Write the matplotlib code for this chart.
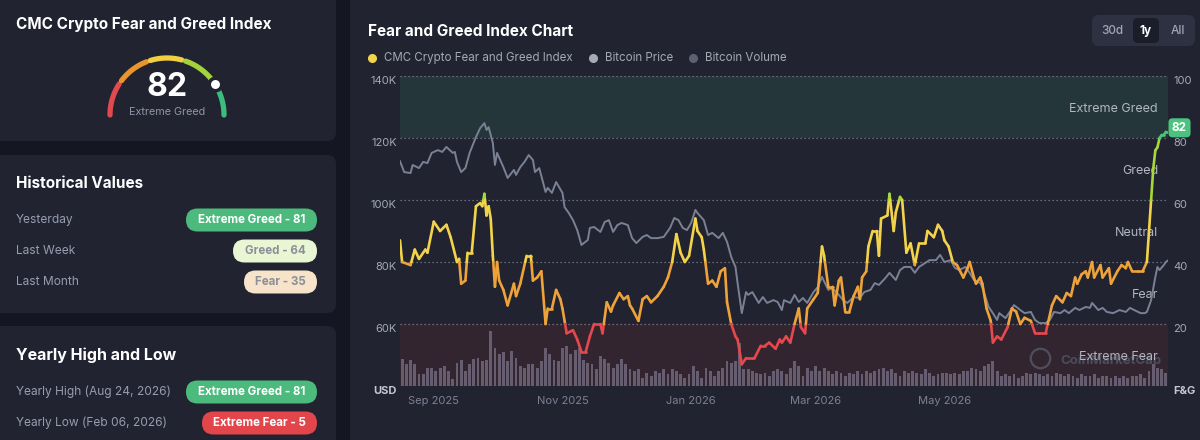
import numpy as np
import matplotlib
matplotlib.use("Agg")
import matplotlib.pyplot as plt
import matplotlib.dates as mdates
import matplotlib.transforms as mtransforms
from matplotlib.patches import FancyBboxPatch
from matplotlib.collections import LineCollection

plt.rcParams['font.family'] = ['Inter', 'DejaVu Sans']

# ---------------- data ----------------
start_date = '2025-08-16'
fg_now = 82
fg_now_label = 'Extreme Greed'

hist_labels = ['Yesterday', 'Last Week', 'Last Month']
hist_values = ['Extreme Greed - 81', 'Greed - 64', 'Fear - 35']
yearly_labels = ['Yearly High (Aug 24, 2026)', 'Yearly Low (Feb 06, 2026)']
yearly_values = ['Extreme Greed - 81', 'Extreme Fear - 5']

legend_labels = ['CMC Crypto Fear and Greed Index', 'Bitcoin Price', 'Bitcoin Volume']
range_buttons = ['30d', '1y', 'All']
zone_labels = ['Extreme Fear', 'Fear', 'Neutral', 'Greed', 'Extreme Greed']
zone_centers = [10, 30, 50, 70, 90]

x_tick_dates = ['2025-09-01', '2025-11-01', '2026-01-01', '2026-03-01', '2026-05-01']
x_tick_labels = ['Sep 2025', 'Nov 2025', 'Jan 2026', 'Mar 2026', 'May 2026']
price_ticks = [40, 60, 80, 100, 120, 140]
price_tick_labels = ['USD', '60K', '80K', '100K', '120K', '140K']
fg_ticks = [0, 20, 40, 60, 80, 100]
fg_tick_labels = ['F&G', '20', '40', '60', '80', '100']

# days since start_date
fg_day = [0, 1, 5, 7, 9, 12, 13, 16, 19, 22, 24, 27, 28, 29, 31, 32, 34, 36, 38, 39,
          40, 41, 42, 43, 44, 45, 46, 47, 49, 51, 54, 55, 57, 60, 62, 63, 65, 67, 69, 70,
          72, 74, 76, 77, 79, 82, 84, 86, 88, 90, 92, 95, 96, 98, 100, 101, 104, 106, 108, 109,
          110, 113, 115, 117, 119, 122, 125, 127, 129, 131, 133, 135, 137, 140, 141, 143, 144, 146, 148, 150,
          152, 154, 155, 157, 159, 160, 162, 164, 167, 168, 171, 173, 175, 178, 180, 181, 183, 185, 187, 189,
          190, 192, 193, 196, 198, 200, 201, 203, 205, 206, 208, 209, 211, 213, 215, 217, 218, 219, 221, 222,
          224, 226, 227, 228, 231, 232, 234, 235, 237, 238, 240, 242, 244, 246, 249, 250, 253, 255, 257, 258,
          260, 262, 264, 267, 269, 270, 272, 273, 275, 276, 278, 280, 281, 283, 285, 288, 290, 292, 294, 296,
          299, 301, 303, 306, 307, 309, 311, 314, 316, 318, 320, 321, 323, 325, 326, 328, 329, 332, 333, 336,
          337, 340, 342, 344, 345, 347, 350, 352, 354, 355, 356, 357, 358, 359, 360, 361, 362, 363, 364]
fg_value = [47, 40, 39, 44, 41, 44, 43, 53, 50, 52, 48, 40, 41, 33, 34, 43, 43, 58, 59, 58,
            62, 55, 58, 54, 42, 32, 40, 34, 31, 26, 33, 29, 33, 42, 42, 34, 35, 37, 20, 25,
            25, 31, 28, 25, 17, 18, 15, 11, 11, 16, 20, 20, 17, 27, 24, 26, 30, 28, 29, 26,
            25, 21, 28, 29, 27, 29, 32, 35, 40, 49, 43, 40, 42, 54, 50, 48, 44, 33, 34, 32,
            37, 38, 27, 20, 16, 15, 7, 9, 9, 9, 13, 13, 14, 12, 15, 14, 16, 14, 20, 25,
            19, 17, 25, 28, 30, 45, 42, 32, 32, 26, 34, 35, 24, 24, 29, 32, 28, 35, 37, 45,
            50, 50, 42, 54, 55, 62, 50, 56, 61, 60, 43, 46, 39, 46, 46, 50, 48, 52, 50, 47,
            45, 40, 39, 35, 38, 40, 35, 33, 35, 33, 25, 21, 14, 16, 15, 19, 25, 24, 20, 22,
            21, 17, 17, 17, 20, 26, 29, 27, 30, 29, 35, 33, 36, 37, 35, 40, 35, 39, 35, 38,
            33, 37, 39, 38, 40, 37, 37, 37, 40, 50, 60, 70, 76, 77, 80, 81, 81, 82, 82]

price_day = [0, 2, 5, 6, 9, 11, 13, 15, 18, 20, 22, 25, 26, 27, 29, 31, 33, 36, 38, 40,
             41, 42, 44, 45, 46, 49, 51, 54, 55, 57, 59, 61, 63, 64, 66, 69, 70, 72, 74, 77,
             78, 80, 82, 84, 86, 89, 90, 92, 95, 97, 99, 101, 103, 105, 108, 110, 112, 115, 117, 119,
             122, 125, 128, 130, 132, 134, 136, 138, 140, 141, 144, 146, 148, 151, 153, 155, 157, 159, 160, 162,
             164, 165, 167, 170, 172, 174, 177, 179, 181, 182, 185, 187, 189, 191, 193, 196, 198, 200, 203, 205,
             208, 210, 212, 215, 218, 220, 223, 225, 227, 230, 232, 235, 237, 239, 242, 244, 246, 249, 251, 254,
             256, 258, 261, 263, 265, 268, 270, 272, 275, 276, 279, 281, 283, 284, 287, 289, 291, 294, 296, 299,
             301, 303, 306, 308, 310, 313, 315, 317, 320, 322, 325, 327, 328, 331, 333, 335, 338, 341, 344, 346,
             348, 351, 353, 354, 356, 358, 359, 360, 362, 363, 364]
btc_price_k = [112.5, 109.0, 108.7, 111.3, 110.3, 112.3, 111.9, 115.2, 116.1, 115.5, 117.1, 115.2, 115.5, 112.3, 109.0, 110.3, 115.2, 120.3, 123.2, 124.8,
               122.6, 123.5, 118.4, 111.3, 115.2, 110.6, 107.1, 109.7, 108.1, 110.6, 112.3, 114.5, 112.9, 109.0, 110.3, 102.6, 103.9, 102.3, 105.8, 102.3,
               97.7, 95.8, 93.5, 90.3, 85.5, 87.1, 91.0, 91.3, 89.7, 92.9, 93.5, 89.7, 91.9, 92.6, 91.9, 87.7, 86.1, 88.1, 88.7, 87.7,
               87.7, 88.1, 91.0, 94.2, 93.5, 91.0, 90.3, 92.6, 96.8, 95.8, 93.5, 88.7, 89.4, 87.7, 89.4, 86.5, 81.6, 78.4, 73.2, 63.5,
               70.3, 69.4, 70.3, 66.8, 68.7, 66.8, 67.7, 67.1, 64.5, 67.7, 66.8, 69.4, 67.1, 68.4, 66.8, 70.3, 71.9, 75.2, 71.0, 71.6,
               69.4, 67.7, 66.8, 68.7, 68.4, 70.3, 71.0, 73.2, 72.6, 74.8, 76.5, 74.2, 77.4, 78.4, 78.4, 76.5, 78.4, 79.7, 80.6, 80.6,
               82.3, 80.0, 80.6, 78.1, 77.4, 78.4, 76.5, 74.2, 73.2, 71.9, 65.5, 63.5, 61.3, 63.5, 61.9, 63.9, 66.1, 64.5, 63.5, 63.9,
               61.3, 60.3, 60.3, 61.3, 63.9, 63.5, 64.5, 63.5, 65.2, 64.5, 65.5, 65.2, 66.8, 64.5, 65.2, 63.9, 63.5, 64.5, 63.9, 65.2,
               64.5, 63.5, 63.5, 63.9, 67.7, 75.2, 78.4, 77.4, 79.0, 80.0, 80.5]

# Bitcoin volume, billions USD, two-day buckets from start_date
btc_volume_bn = [54, 44, 52, 44, 24, 24, 36, 36, 30, 36,
                 40, 30, 14, 46, 52, 30, 44, 54, 56, 50,
                 52, 110, 76, 64, 68, 50, 70, 56, 40, 36,
                 44, 44, 36, 50, 76, 64, 52, 50, 76, 80,
                 64, 72, 76, 52, 46, 44, 34, 60, 54, 46,
                 36, 44, 54, 44, 34, 30, 34, 16, 26, 20,
                 30, 26, 34, 24, 34, 30, 24, 16, 24, 40,
                 30, 16, 36, 30, 20, 30, 36, 50, 46, 50,
                 86, 34, 34, 30, 26, 24, 26, 20, 30, 34,
                 30, 24,
                 36, 50, 40, 20, 36, 30, 40, 30, 36, 30,
                 24, 30, 26, 20, 26, 24, 30, 24, 30, 26,
                 30, 34, 36, 30, 34, 26, 20, 30, 26, 30,
                 26, 24, 34, 26, 20, 24, 26, 26, 24, 26,
                 24, 30, 30, 36, 34, 30, 40, 44, 50, 30,
                 20, 24, 20, 24, 16, 20, 26, 24, 26, 24,
                 20, 24, 20, 26, 24, 20, 24, 20, 16, 24,
                 20, 20, 24, 16, 20, 20, 16, 20, 16, 20,
                 16, 20, 20, 24, 16, 30, 44, 36, 34, 26,
                 20]

# ---------------- style ----------------
PAGE = '#141722'
PANEL = '#212330'
WHITE = '#ffffff'
MUTED = '#979db0'
AXIS_TXT = '#a4a9b8'
XTXT = '#7b8195'
GRID = '#7d8292'
ZONE_COLORS = ['#e5484d', '#eea23a', '#f3d34a', '#a6d83a', '#4cc27f']
GAUGE_COLORS = ['#e04a4f', '#e8952f', '#f0d040', '#a2d33a', '#3dbd7d']
PRICE_COLOR = '#7b8194'
VOL_COLOR = '#665e70'

fig = plt.figure(figsize=(12, 4.4), dpi=100)
fig.patch.set_facecolor(PAGE)

bg = fig.add_axes([0, 0, 1, 1])
bg.set_xlim(0, 1200)
bg.set_ylim(440, 0)
bg.axis('off')


def rbox(x, y, w, h, r, fc):
    bg.add_patch(FancyBboxPatch((x, y), w, h, boxstyle=f'round,pad=0,rounding_size={r}',
                                fc=fc, ec='none'))


# panels
rbox(-12, -12, 348, 153, 9, PANEL)
rbox(-12, 155, 348, 158, 9, PANEL)
rbox(-12, 326, 348, 130, 9, PANEL)
rbox(350, -12, 870, 470, 9, PANEL)

# ---- gauge panel ----
bg.text(16, 25, 'CMC Crypto Fear and Greed Index', fontsize=11, weight='bold', color=WHITE, va='center')
cx, cy, r = 167, 115, 57
gauge_segs = [(180, 147), (143, 111), (107, 75), (71, 39), (35, 0)]
for (a0, a1), c in zip(gauge_segs, GAUGE_COLORS):
    th = np.radians(np.linspace(a0, a1, 60))
    bg.plot(cx + r * np.cos(th), cy - r * np.sin(th), color=c, lw=3.8, solid_capstyle='round')
ang = np.radians(180 - 1.8 * fg_now)
bg.plot([cx + r * np.cos(ang)], [cy - r * np.sin(ang)], 'o', ms=9, mfc=WHITE, mec=PANEL, mew=2.5)
bg.text(cx, 88, str(fg_now), fontsize=23, weight='bold', color=WHITE, ha='center', va='center')
bg.text(cx, 112, fg_now_label, fontsize=7.8, color='#8f95a8', ha='center', va='center')


def pill(x0, yc, text, fc, tc):
    rbox(x0, yc - 11.5, 317 - x0, 23, 11.5, fc)
    bg.text((x0 + 317) / 2, yc, text, fontsize=8.3, weight='bold', color=tc, ha='center', va='center')


# ---- historical values ----
bg.text(16, 183, 'Historical Values', fontsize=11, weight='bold', color=WHITE, va='center')
hist_y = [220, 251, 282]
hist_x0 = [186, 233, 244]
hist_style = [('#4cba7c', WHITE), ('#e9f6d4', '#8c8f99'), ('#f6e3c9', '#8c8f99')]
for lab, val, y, x0, (fc, tc) in zip(hist_labels, hist_values, hist_y, hist_x0, hist_style):
    bg.text(16, y, lab, fontsize=8.6, color=MUTED, va='center')
    pill(x0, y, val, fc, tc)

# ---- yearly high/low ----
bg.text(16, 355, 'Yearly High and Low', fontsize=11.5, weight='bold', color=WHITE, va='center')
yr_y = [392, 423]
yr_x0 = [186, 202]
yr_style = [('#4cba7c', WHITE), ('#e2464b', WHITE)]
for lab, val, y, x0, (fc, tc) in zip(yearly_labels, yearly_values, yr_y, yr_x0, yr_style):
    bg.text(16, y, lab, fontsize=8.6, color=MUTED, va='center')
    pill(x0, y, val, fc, tc)

# ---- chart header ----
bg.text(368, 31, 'Fear and Greed Index Chart', fontsize=11, weight='bold', color=WHITE, va='center')
leg_dot_x = [372, 593, 693]
leg_cols = ['#f2d54a', '#a6aab8', '#5d6172']
for lx, lab, c in zip(leg_dot_x, legend_labels, leg_cols):
    bg.plot([lx], [58], 'o', ms=5.5, color=c)
    bg.text(lx + 12, 58, lab, fontsize=8.3, color='#a3a8b7', va='center')

rbox(1092, 15, 103, 31, 7, '#2e3142')
rbox(1133, 18, 26, 25, 5, '#1b1d29')
for bx, lab in zip([1112, 1146, 1178], range_buttons):
    bold = lab == '1y'
    bg.text(bx, 31, lab, fontsize=8.5, weight='bold' if bold else 'medium',
            color=WHITE if bold else '#a0a5b5', ha='center', va='center')

# ---------------- main chart ----------------
start = np.datetime64(start_date, 'D')
x_min = mdates.date2num(start)
x_max = mdates.date2num(start + np.timedelta64(364, 'D'))
rect = [400 / 1200, 54 / 440, 768 / 1200, 310 / 440]

ax = fig.add_axes(rect, label='base')
ax_vol = fig.add_axes(rect, label='vol')
ax_price = fig.add_axes(rect, label='price')
ax_fg = fig.add_axes(rect, label='fg')
for a in (ax, ax_vol, ax_price, ax_fg):
    a.set_facecolor('none')
    a.set_xlim(x_min, x_max)
    for s in a.spines.values():
        s.set_visible(False)

# base: bands, grid, F&G ticks, date ticks
ax.set_ylim(0, 100)
ax.axhspan(80, 100, color='#24363a', lw=0, zorder=0)
ax.axhspan(0, 20, color='#33252f', lw=0, zorder=0)
for v in fg_ticks:
    ax.axhline(v, color=GRID, lw=0.9, ls=(0, (1, 2.2)), zorder=1)
ax.yaxis.tick_right()
ax.set_yticks(fg_ticks, fg_tick_labels)
ax.tick_params(axis='y', length=0, pad=3.6, labelsize=8, labelcolor=AXIS_TXT)
for lab in ax.get_yticklabels():
    lab.set_verticalalignment('top')
ax.get_yticklabels()[0].set_fontweight('bold')
ax.get_yticklabels()[0].set_color('#c3c7d1')
ax.set_xticks(mdates.date2num(np.array(x_tick_dates, dtype='datetime64[D]')), x_tick_labels)
ax.tick_params(axis='x', length=0, pad=7, labelsize=8, labelcolor=XTXT)

zone_tr = mtransforms.blended_transform_factory(ax.transAxes, ax.transData)
for lab, v in zip(zone_labels, zone_centers):
    ax.text(0.987, v - 0.5, lab, transform=zone_tr, ha='right', va='center',
            fontsize=9, color='#b2b6c2', zorder=3)

# watermark (faint logo + wordmark, as in the source)
ax.plot([1040 / 1200], [1 - 358 / 440], 'o', ms=14, mfc='none', mec='#4d4f5f', mew=1.6,
        transform=fig.transFigure, zorder=2)
ax.text(1060 / 1200, 1 - 361 / 440, 'CoinMarketCap', transform=fig.transFigure, fontsize=9.5,
        weight='bold', color='#4a4d5c', va='center', zorder=2)

# volume
vol_dates = start + (np.arange(len(btc_volume_bn)) * 2 + 1).astype('timedelta64[D]')
ax_vol.bar(mdates.date2num(vol_dates), btc_volume_bn, width=1.35, color=VOL_COLOR, lw=0)
ax_vol.set_ylim(0, 620)
ax_vol.set_xticks([])
ax_vol.set_yticks([])

# price
price_dates = start + np.array(price_day).astype('timedelta64[D]')
ax_price.plot(mdates.date2num(price_dates), btc_price_k, color=PRICE_COLOR, lw=1.4)
ax_price.set_ylim(40, 140)
ax_price.set_xticks([])
ax_price.set_yticks(price_ticks, price_tick_labels)
ax_price.tick_params(axis='y', length=0, pad=2.2, labelsize=8, labelcolor=AXIS_TXT)
for lab in ax_price.get_yticklabels():
    lab.set_verticalalignment('top')
ax_price.get_yticklabels()[0].set_fontweight('bold')
ax_price.get_yticklabels()[0].set_color('#c3c7d1')

# fear & greed, coloured by zone
fg_x = mdates.date2num(start + np.array(fg_day).astype('timedelta64[D]'))
fg_y = np.array(fg_value, dtype=float)
thresholds = [20, 40, 60, 80]
segs, cols = [], []
for i in range(len(fg_x) - 1):
    x0, y0, x1, y1 = fg_x[i], fg_y[i], fg_x[i + 1], fg_y[i + 1]
    pts = [(x0, y0)]
    lo, hi = min(y0, y1), max(y0, y1)
    cuts = [t for t in thresholds if lo < t < hi]
    if y1 < y0:
        cuts = cuts[::-1]
    for t in cuts:
        f = (t - y0) / (y1 - y0)
        pts.append((x0 + f * (x1 - x0), t))
    pts.append((x1, y1))
    for a, b in zip(pts[:-1], pts[1:]):
        segs.append([a, b])
        cols.append(ZONE_COLORS[int(np.searchsorted(thresholds, (a[1] + b[1]) / 2))])
lc = LineCollection(segs, colors=cols, linewidths=1.9, capstyle='round', joinstyle='round')
ax_fg.add_collection(lc)
ax_fg.set_ylim(0, 100)
ax_fg.set_xticks([])
ax_fg.set_yticks([])

badge_tr = mtransforms.offset_copy(
    mtransforms.blended_transform_factory(ax_fg.transAxes, ax_fg.transData),
    fig=fig, x=4, y=4, units='dots')
ax_fg.text(1.0, fg_value[-1], str(fg_value[-1]), transform=badge_tr, ha='left', va='center',
           fontsize=8.5, weight='bold', color=WHITE, clip_on=False,
           bbox=dict(boxstyle='round,pad=0.3,rounding_size=0.35', fc='#4cc27f', ec='none'))

fig.savefig('out.png', dpi=100, facecolor=fig.get_facecolor())
